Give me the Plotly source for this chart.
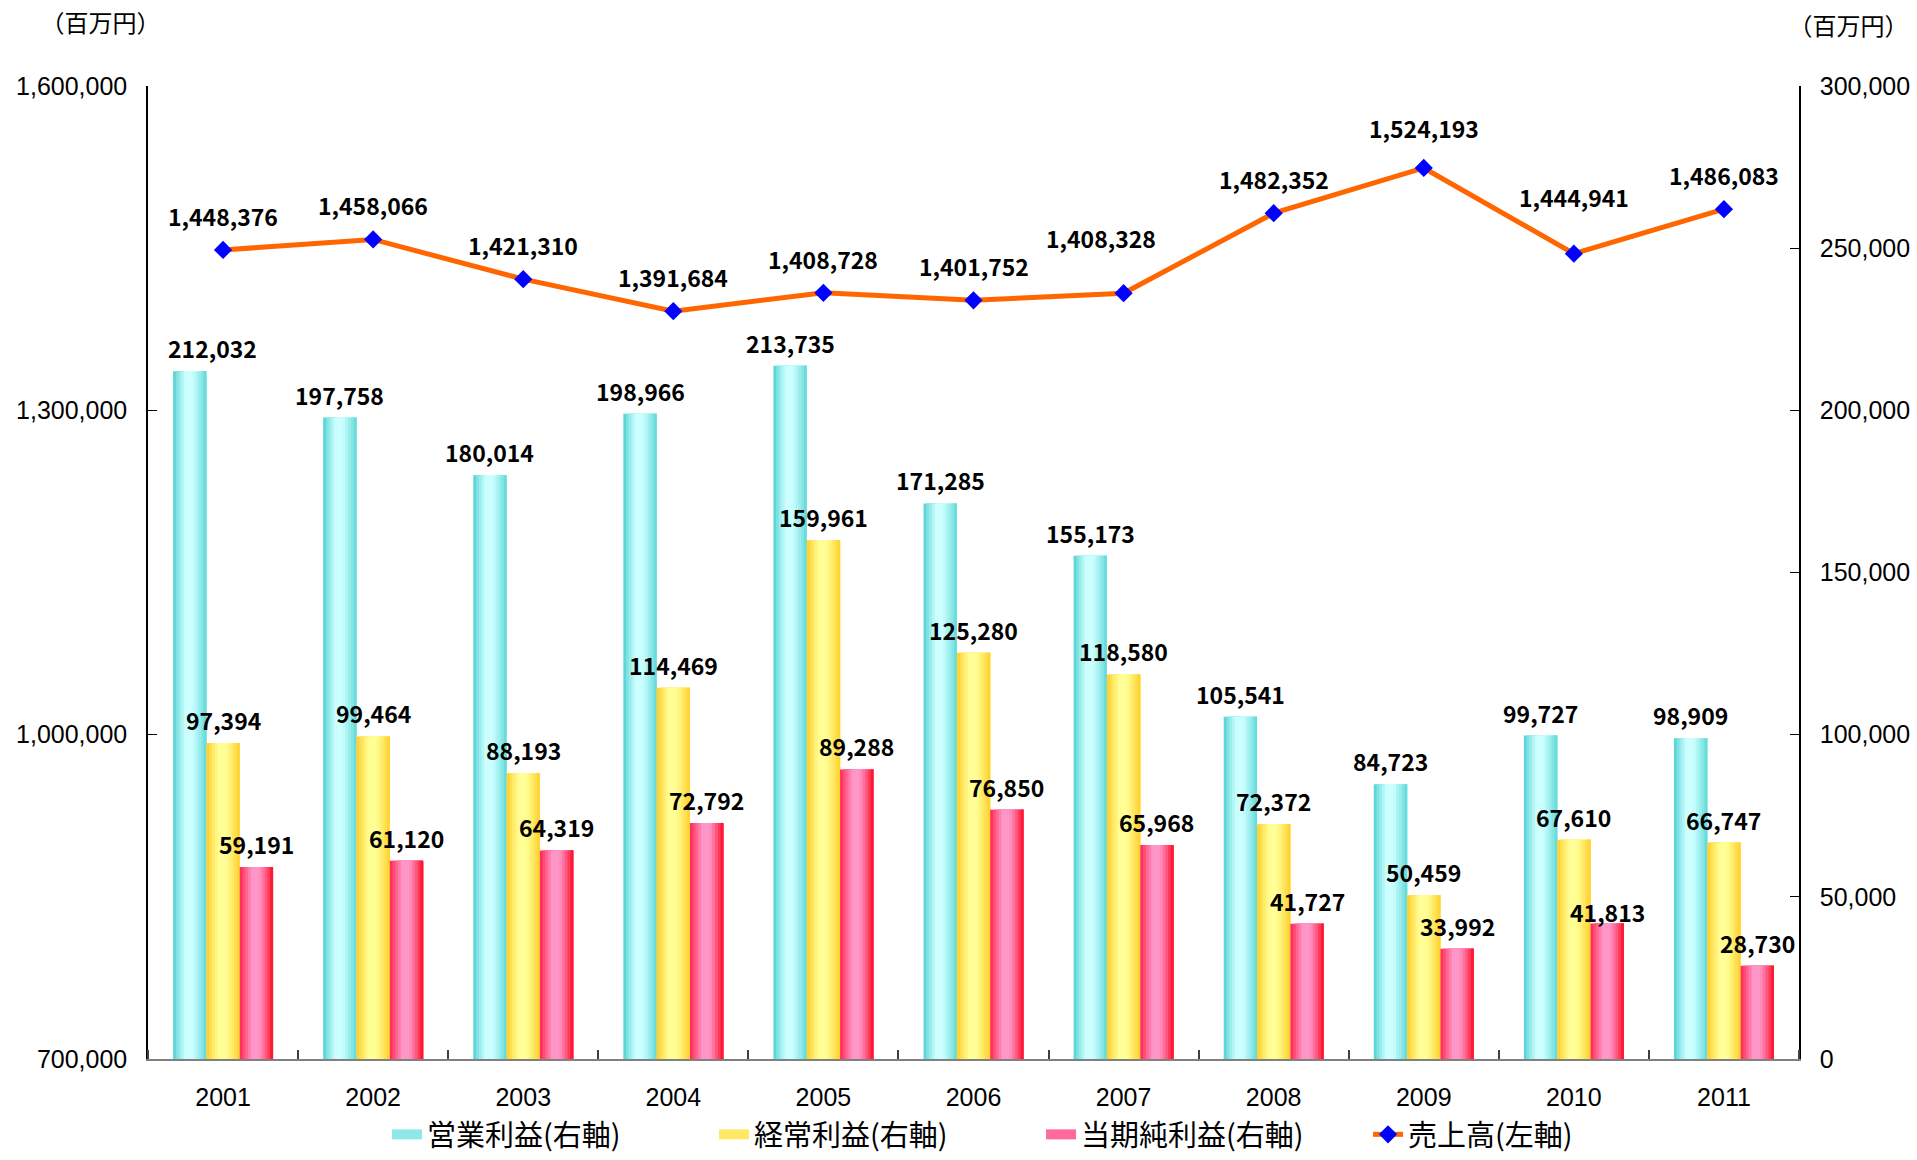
import plotly.graph_objects as go

# ---------------- data ----------------
years = ['2001', '2002', '2003', '2004', '2005', '2006', '2007', '2008', '2009', '2010', '2011']
sales = [1448376, 1458066, 1421310, 1391684, 1408728, 1401752, 1408328, 1482352, 1524193, 1444941, 1486083]
operating = [212032, 197758, 180014, 198966, 213735, 171285, 155173, 105541, 84723, 99727, 98909]
ordinary = [97394, 99464, 88193, 114469, 159961, 125280, 118580, 72372, 50459, 67610, 66747]
net_income = [59191, 61120, 64319, 72792, 89288, 76850, 65968, 41727, 33992, 41813, 28730]

left_ticks = [700000, 1000000, 1300000, 1600000]
right_ticks = [0, 50000, 100000, 150000, 200000, 250000, 300000]

bar_names = ['営業利益(右軸)', '経常利益(右軸)', '当期純利益(右軸)']
line_name = '売上高(左軸)'
unit_label = '（百万円）'

# ---------------- styling ----------------
xs = list(range(len(years)))
BW = 0.222          # width of one bar (category units)
K = 12              # gradient slices per bar

grad = [
    ((72, 206, 206), (204, 255, 255), (90, 214, 214)),
    ((255, 200, 30), (255, 255, 150), (255, 204, 34)),
    ((255, 30, 70), (255, 150, 200), (255, 0, 20)),
]
legend_cols = ['#8EE8E8', '#FFE866', '#FF6A9A']

# label placement tweaks (pixels): (series, index) -> (dx, extra dy)
label_nudge = {
    ('sales', 6): (-23, 21),
    ('sales', 8): (0, 6),
    ('sales', 9): (0, 23),
    (0, 0): (23, 0),
    (2, 9): (0, -12),
}


def mix(a, b, p):
    return tuple(int(round(a[i] + (b[i] - a[i]) * p)) for i in range(3))


def profile(t):
    p = min(1.0, t / 0.38, (1.0 - t) / 0.42)
    p = max(0.0, p)
    return p ** 0.8


fig = go.Figure()

series = [operating, ordinary, net_income]
for j, vals in enumerate(series):
    left, light, right = grad[j]
    start = -1.5 * BW + j * BW
    for k in range(K):
        t = (k + 0.5) / K
        edge = mix(left, right, t)
        c = mix(edge, light, profile(t))
        fig.add_trace(go.Bar(
            x=xs, y=vals,
            offset=start + k * BW / K,
            width=BW * (K - k) / K,
            marker=dict(color='rgb(%d,%d,%d)' % c, line=dict(width=0)),
            yaxis='y', showlegend=False, hoverinfo='skip',
        ))

for j, name in enumerate(bar_names):
    fig.add_trace(go.Scatter(
        x=[None], y=[None], mode='lines', name=name,
        line=dict(color=legend_cols[j], width=16), yaxis='y',
    ))

fig.add_trace(go.Scatter(
    x=xs, y=sales, yaxis='y2', mode='lines+markers', name=line_name,
    line=dict(color='#FF6600', width=5),
    marker=dict(symbol='diamond', size=14, color='#0000FF'),
))

# ---------------- labels ----------------
label_font = dict(family='Noto Sans CJK JP', size=23, color='#000000', weight='bold')
ann = []
for i, v in enumerate(sales):
    dx, dy = label_nudge.get(('sales', i), (0, 0))
    ann.append(dict(x=xs[i], y=v, xref='x', yref='y2', text=f'{v:,}', showarrow=False,
                    xanchor='center', yanchor='middle',
                    xshift=dx, yshift=34 + dy, font=label_font))
for j, vals in enumerate(series):
    center = -BW + j * BW
    for i, v in enumerate(vals):
        dx, dy = label_nudge.get((j, i), (0, 0))
        ann.append(dict(x=xs[i] + center, y=v, xref='x', yref='y', text=f'{v:,}',
                        showarrow=False, xanchor='center', yanchor='middle',
                        xshift=dx, yshift=23 + dy, font=label_font))

# non-breaking spaces keep the full-width brackets from being trimmed at line edges
unit_text = '\u00a0' + unit_label + '\u00a0'
unit_font = dict(family='Noto Sans CJK JP', size=24, color='#000000')
ann.append(dict(x=-0.029, y=1.066, xref='paper', yref='paper', text=unit_text,
                xanchor='center', yanchor='middle', showarrow=False, font=unit_font))
ann.append(dict(x=1.030, y=1.063, xref='paper', yref='paper', text=unit_text,
                xanchor='center', yanchor='middle', showarrow=False, font=unit_font))

tick_font = dict(family='Liberation Sans, Arial', size=25, color='#000000')

fig.update_layout(
    width=1917, height=1160,
    margin=dict(l=148, r=118, t=86, b=101),
    paper_bgcolor='white', plot_bgcolor='white',
    barmode='overlay',
    annotations=ann,
    xaxis=dict(
        range=[-0.5, len(years) - 0.5],
        tickmode='array', tickvals=xs, ticktext=years, ticks='',
        showline=True, linecolor='#808080', linewidth=2,
        showgrid=False, zeroline=False, tickfont=tick_font,
        ticklabelstandoff=15, automargin=False,
        minor=dict(tickmode='array', tickvals=[i - 0.5 for i in range(len(years) + 1)],
                   ticks='inside', ticklen=9, tickcolor='#404040', tickwidth=1.5, showgrid=False),
    ),
    yaxis=dict(
        side='right', range=[0, 300000], tickmode='array', tickvals=right_ticks,
        tickformat=',', ticks='inside', ticklen=9, tickcolor='#000000',
        showline=True, linecolor='#000000', linewidth=1.5, automargin=False,
        showgrid=False, zeroline=False, tickfont=tick_font, ticklabelstandoff=14,
    ),
    yaxis2=dict(
        side='left', overlaying='y', range=[700000, 1600000], tickmode='array',
        tickvals=left_ticks, tickformat=',', ticks='inside', ticklen=9, tickcolor='#000000',
        showline=True, linecolor='#000000', linewidth=1.5, automargin=False,
        showgrid=False, zeroline=False, tickfont=tick_font, ticklabelstandoff=14,
    ),
    legend=dict(
        orientation='h', xref='container', yref='container',
        x=0.2019, xanchor='left', y=-0.006, yanchor='bottom',
        font=dict(family='Noto Sans CJK JP', size=29, color='#000000'),
        entrywidth=282, entrywidthmode='pixels', bgcolor='rgba(0,0,0,0)',
    ),
    showlegend=True,
)

fig.write_html(
    'out.html',
    config={'displayModeBar': False},
    post_script="document.body.style.margin='0';",
)
